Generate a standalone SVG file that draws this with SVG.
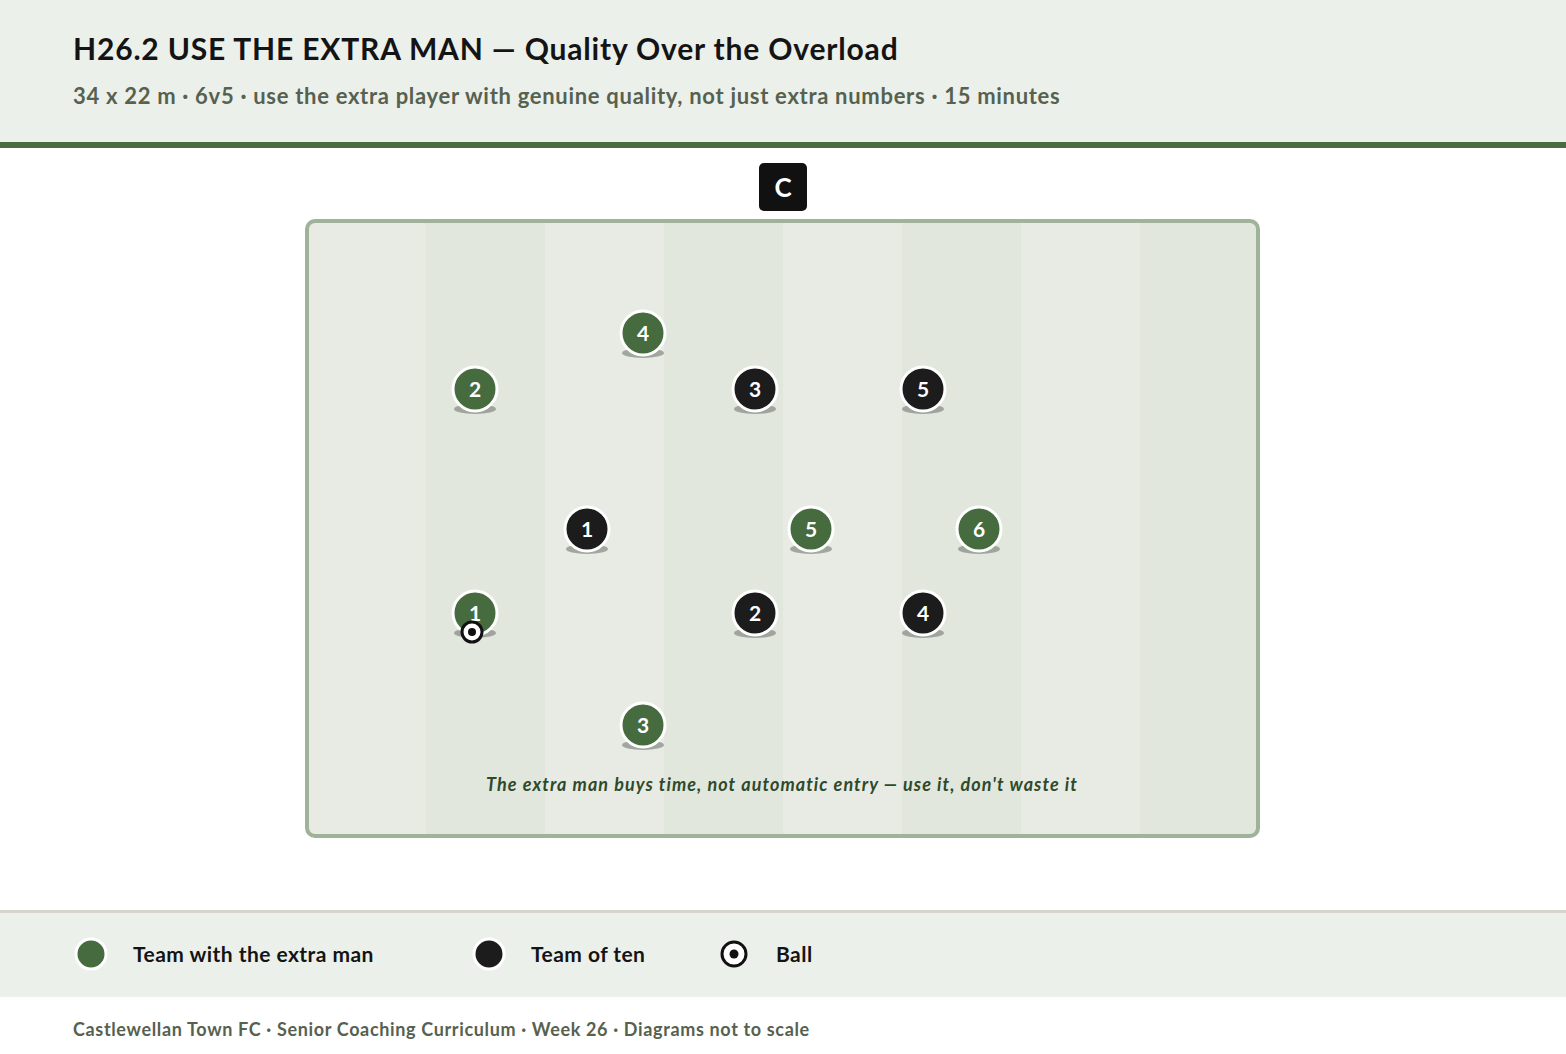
<svg xmlns="http://www.w3.org/2000/svg" width="1566" height="1054" viewBox="0 0 1566 1054">
<style>
text{font-family:Lato,"Liberation Sans",sans-serif;font-weight:700}
.num{fill:#fff;font-size:21px;text-anchor:middle}
.g{fill:#456b3e;stroke:#fff;stroke-width:3}
.b{fill:#1c1c1c;stroke:#fff;stroke-width:3}
.sh{fill:#8f958c;opacity:0.8}
.lg{font-size:21px;fill:#141414;letter-spacing:0.45px}
.lt{fill:#e8ebe4}
.dk{fill:#e1e7dd}
</style>
<rect x="0" y="0" width="1566" height="1054" fill="#fff"/>
<g id="header">
<rect x="0" y="0" width="1566" height="143" fill="#ecf0eb"/>
<rect x="0" y="142" width="1566" height="6" fill="#4a6b42"/>
<text x="73" y="60" font-size="30" fill="#141414" letter-spacing="0.82">H26.2 USE THE EXTRA MAN — Quality Over the Overload</text>
<text x="73" y="104" font-size="22" fill="#56614f" letter-spacing="0.7">34 x 22 m · 6v5 · use the extra player with genuine quality, not just extra numbers · 15 minutes</text>
</g>
<g id="coach">
<rect x="759" y="163" width="48" height="48" rx="5" fill="#111"/>
<text x="783" y="197" font-size="26" fill="#fff" text-anchor="middle">C</text>
</g>
<g id="pitch">
<rect x="307" y="221" width="951" height="615" rx="8" fill="#e8ebe4"/>
<rect class="dk" x="426" y="223" width="119" height="611"/>
<rect class="dk" x="664" y="223" width="119" height="611"/>
<rect class="dk" x="902" y="223" width="119" height="611"/>
<rect class="dk" x="1140" y="223" width="116" height="611"/>
<rect x="307" y="221" width="951" height="615" rx="8" fill="none" stroke="#a0b29a" stroke-width="4"/>
<text x="782" y="791" font-size="18" font-style="italic" fill="#2e4a2a" text-anchor="middle" letter-spacing="1.07">The extra man buys time, not automatic entry — use it, don't waste it</text>
</g>
<g id="connectors"></g>
<g id="g4"><ellipse class="sh" cx="643" cy="353" rx="21" ry="5"/><circle class="g" cx="643" cy="333" r="22"/><text class="num" x="643" y="341">4</text></g>
<g id="g2"><ellipse class="sh" cx="475" cy="409" rx="21" ry="5"/><circle class="g" cx="475" cy="389" r="22"/><text class="num" x="475" y="397">2</text></g>
<g id="b3"><ellipse class="sh" cx="755" cy="409" rx="21" ry="5"/><circle class="b" cx="755" cy="389" r="22"/><text class="num" x="755" y="397">3</text></g>
<g id="b5"><ellipse class="sh" cx="923" cy="409" rx="21" ry="5"/><circle class="b" cx="923" cy="389" r="22"/><text class="num" x="923" y="397">5</text></g>
<g id="b1"><ellipse class="sh" cx="587" cy="549" rx="21" ry="5"/><circle class="b" cx="587" cy="529" r="22"/><text class="num" x="587" y="537">1</text></g>
<g id="g5"><ellipse class="sh" cx="811" cy="549" rx="21" ry="5"/><circle class="g" cx="811" cy="529" r="22"/><text class="num" x="811" y="537">5</text></g>
<g id="g6"><ellipse class="sh" cx="979" cy="549" rx="21" ry="5"/><circle class="g" cx="979" cy="529" r="22"/><text class="num" x="979" y="537">6</text></g>
<g id="g1"><ellipse class="sh" cx="475" cy="633" rx="21" ry="5"/><circle class="g" cx="475" cy="613" r="22"/><text class="num" x="475" y="621">1</text></g>
<g id="b2"><ellipse class="sh" cx="755" cy="633" rx="21" ry="5"/><circle class="b" cx="755" cy="613" r="22"/><text class="num" x="755" y="621">2</text></g>
<g id="b4"><ellipse class="sh" cx="923" cy="633" rx="21" ry="5"/><circle class="b" cx="923" cy="613" r="22"/><text class="num" x="923" y="621">4</text></g>
<g id="g3"><ellipse class="sh" cx="643" cy="745" rx="21" ry="5"/><circle class="g" cx="643" cy="725" r="22"/><text class="num" x="643" y="733">3</text></g>
<g id="ball"><circle cx="472" cy="632" r="10" fill="#fff" stroke="#111" stroke-width="3"/><circle cx="472" cy="632" r="4" fill="#111"/></g>
<g id="legend">
<rect x="0" y="910" width="1566" height="3" fill="#d8d6cc"/>
<rect x="0" y="913" width="1566" height="84" fill="#ecf0eb"/>
<circle cx="91" cy="954" r="15" fill="#456b3e" stroke="#fff" stroke-width="3"/>
<text class="lg" x="133" y="962">Team with the extra man</text>
<circle cx="489" cy="954" r="15" fill="#1c1c1c" stroke="#fff" stroke-width="3"/>
<text class="lg" x="531" y="962">Team of ten</text>
<circle cx="734" cy="954" r="12" fill="#fff" stroke="#111" stroke-width="3"/>
<circle cx="734" cy="954" r="4.5" fill="#111"/>
<text class="lg" x="776" y="962">Ball</text>
</g>
<g id="footer">
<text x="73" y="1036" font-size="18" fill="#56614f" letter-spacing="0.65">Castlewellan Town FC · Senior Coaching Curriculum · Week 26 · Diagrams not to scale</text>
</g>
</svg>
